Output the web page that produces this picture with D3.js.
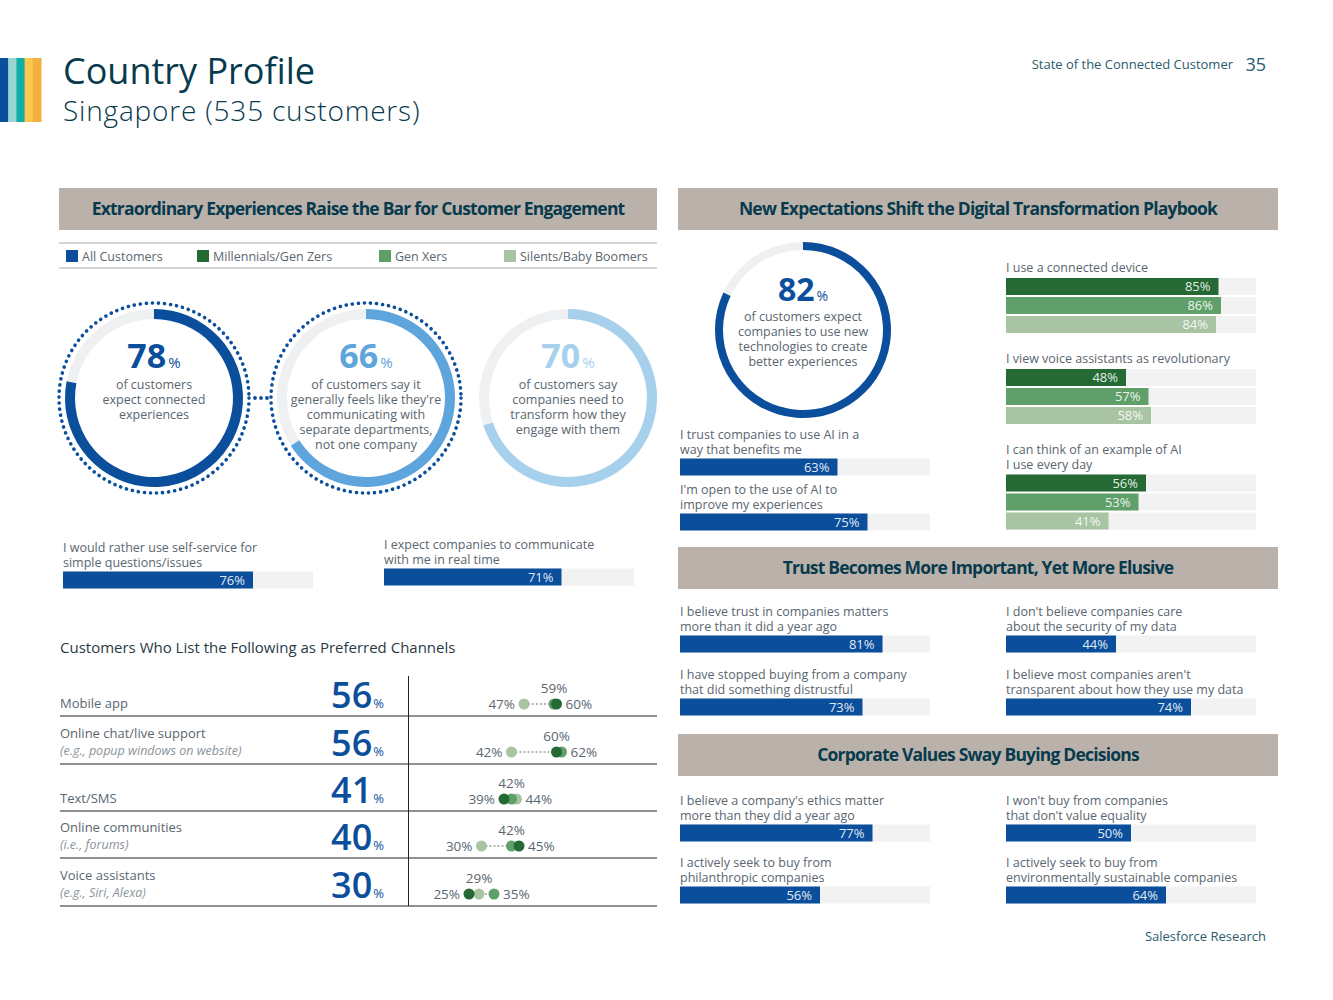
<!DOCTYPE html>
<html>
<head>
  <meta charset="utf-8">
  <title>Country Profile</title>
  <style>
    body { margin: 0; background: #fff; }
    text { font-family: "Open Sans", sans-serif; }
  </style>
</head>
<body>
<script src="https://cdnjs.cloudflare.com/ajax/libs/d3/7.8.5/d3.min.js"></script>
<script>
// data
const circleValues = [78, 66, 70];
const circleTexts = [
  ["of customers", "expect connected", "experiences"],
  ["of customers say it", "generally feels like they're", "communicating with", "separate departments,", "not one company"],
  ["of customers say", "companies need to", "transform how they", "engage with them"]
];
const transformValue = 82;
const transformText = ["of customers expect", "companies to use new", "technologies to create", "better experiences"];

const leftBarLabels = [["I would rather use self-service for", "simple questions/issues"], ["I expect companies to communicate", "with me in real time"]];
const leftBarValues = [76, 71];

const aiLabels = [["I trust companies to use AI in a", "way that benefits me"], ["I'm open to the use of AI to", "improve my experiences"]];
const aiValues = [63, 75];

const genLabels = [["I use a connected device"], ["I view voice assistants as revolutionary"], ["I can think of an example of AI", "I use every day"]];
const millennials = [85, 48, 56];
const genXers = [86, 57, 53];
const boomers = [84, 58, 41];

const trustLabels = [["I believe trust in companies matters", "more than it did a year ago"], ["I don't believe companies care", "about the security of my data"],
  ["I have stopped buying from a company", "that did something distrustful"], ["I believe most companies aren't", "transparent about how they use my data"]];
const trustValues = [81, 44, 73, 74];

const valuesLabels = [["I believe a company's ethics matter", "more than they did a year ago"], ["I won't buy from companies", "that don't value equality"],
  ["I actively seek to buy from", "philanthropic companies"], ["I actively seek to buy from", "environmentally sustainable companies"]];
const valuesValues = [77, 50, 56, 64];

const channels = ["Mobile app", "Online chat/live support", "Text/SMS", "Online communities", "Voice assistants"];
const channelNotes = ["", "(e.g., popup windows on website)", "", "(i.e., forums)", "(e.g., Siri, Alexa)"];
const channelAll = [56, 56, 41, 40, 30];
const channelMill = [60, 60, 39, 45, 25];
const channelGenX = [59, 62, 42, 42, 35];
const channelBoom = [47, 42, 44, 30, 29];

const legendLabels = ["All Customers", "Millennials/Gen Zers", "Gen Xers", "Silents/Baby Boomers"];

// styles
const blue = "#0b4f9c", dark = "#256a34", mid = "#5fa06a", light = "#a8c4a2";
const grey = "#5a6670", track = "#f3f2f2", band = "#bab2aa";

const svg = d3.select("body").append("svg").attr("width", 1333).attr("height", 1000);

// header
const stripes = ["#0b4f9c", "#9ad6d2", "#14aea6", "#fcc850", "#f4b03e"];
const sx = d3.scaleBand().domain(d3.range(5)).range([0, 41]);
svg.selectAll(".stripe").data(stripes).enter().append("rect")
  .attr("x", (d, i) => sx(i)).attr("y", 58).attr("width", sx.bandwidth() + 0.5).attr("height", 64).attr("fill", d => d);
svg.append("text").attr("x", 63).attr("y", 84).attr("font-size", 36).attr("fill", "#083a4d").text("Country Profile");
svg.append("text").attr("x", 63).attr("y", 121).attr("font-size", 28).attr("font-weight", 300).attr("letter-spacing", 0.8).attr("fill", "#083a4d").text("Singapore (535 customers)");
svg.append("text").attr("x", 1233).attr("y", 69).attr("text-anchor", "end").attr("font-size", 13).attr("fill", "#2a5b6e").text("State of the Connected Customer");
svg.append("text").attr("x", 1266).attr("y", 71).attr("text-anchor", "end").attr("font-size", 18).attr("fill", "#2a5b6e").text("35");
svg.append("text").attr("x", 1266).attr("y", 941).attr("text-anchor", "end").attr("font-size", 13).attr("fill", "#2a5b6e").text("Salesforce Research");

// section bands
function band_(x, y, w, title) {
  svg.append("rect").attr("x", x).attr("y", y).attr("width", w).attr("height", 42).attr("fill", band);
  svg.append("text").attr("x", x + w / 2).attr("y", y + 27).attr("text-anchor", "middle")
    .attr("font-family", "Roboto").attr("font-size", 17.5).attr("font-weight", 700).attr("letter-spacing", -0.8)
    .attr("fill", "#083a4d").text(title);
}
band_(59, 188, 598, "Extraordinary Experiences Raise the Bar for Customer Engagement");
band_(678, 188, 600, "New Expectations Shift the Digital Transformation Playbook");
band_(678, 547, 600, "Trust Becomes More Important, Yet More Elusive");
band_(678, 734, 600, "Corporate Values Sway Buying Decisions");

// legend
svg.append("line").attr("x1", 59).attr("x2", 657).attr("y1", 243).attr("y2", 243).attr("stroke", "#aaa");
svg.append("line").attr("x1", 59).attr("x2", 657).attr("y1", 268).attr("y2", 268).attr("stroke", "#aaa");
const legX = [66, 197, 379, 504];
[blue, dark, mid, light].forEach((c, i) => {
  svg.append("rect").attr("x", legX[i]).attr("y", 250).attr("width", 12).attr("height", 12).attr("fill", c);
  svg.append("text").attr("x", legX[i] + 16).attr("y", 261).attr("font-size", 12.5).attr("fill", grey).text(legendLabels[i]);
});

// bars
const xb = d3.scaleLinear().domain([0, 100]).range([0, 250]);
function lines(x, y, arr, size, italic, color) {
  const t = svg.append("text").attr("x", x).attr("y", y).attr("font-size", size || 12.5).attr("fill", color || grey)
    .attr("font-style", italic ? "italic" : null);
  arr.forEach((s, i) => t.append("tspan").attr("x", x).attr("dy", i ? 14.5 : 0).text(s));
}
function bar(x, y, v, color) {
  svg.append("rect").attr("x", x).attr("y", y).attr("width", xb(100)).attr("height", 17).attr("fill", track);
  svg.append("rect").attr("x", x).attr("y", y).attr("width", xb(v)).attr("height", 17).attr("fill", color);
  svg.append("text").attr("x", x + xb(v) - 8).attr("y", y + 13).attr("text-anchor", "end")
    .attr("font-size", 13).attr("fill", "#fff").attr("fill-opacity", 0.9).text(v + "%");
}
function labeledBar(x, y, lab, v) {
  lines(x, y + 4, lab);
  bar(x, y + 9 + 14.5 * (lab.length - 1), v, blue);
}
labeledBar(63, 548, leftBarLabels[0], leftBarValues[0]);
labeledBar(384, 545, leftBarLabels[1], leftBarValues[1]);
labeledBar(680, 435, aiLabels[0], aiValues[0]);
labeledBar(680, 490, aiLabels[1], aiValues[1]);
const colX = [680, 1006];
trustValues.forEach((v, i) => labeledBar(colX[i % 2], i < 2 ? 612 : 675, trustLabels[i], v));
valuesValues.forEach((v, i) => labeledBar(colX[i % 2], i < 2 ? 801 : 863, valuesLabels[i], v));

const genY = [268, 359, 450];
genLabels.forEach((lab, i) => {
  lines(1006, genY[i] + 4, lab);
  const y0 = genY[i] + 10 + 14.5 * (lab.length - 1);
  [[millennials, dark], [genXers, mid], [boomers, light]].forEach(([arr, c], j) => {
    bar(1006, y0 + j * 19, arr[i], c);
  });
});

// circles
const arc = d3.arc();
const circleCfg = [
  { cx: 154, color: blue, dots: true },
  { cx: 366, color: "#5ea5dd", dots: true },
  { cx: 568, color: "#a7d0ec", dots: false }
];
circleValues.forEach((v, i) => {
  const c = circleCfg[i];
  const g = svg.append("g").attr("transform", `translate(${c.cx},398)`);
  g.append("path").attr("d", arc({ innerRadius: 79, outerRadius: 89, startAngle: 0, endAngle: 2 * Math.PI })).attr("fill", "#eff0f2");
  g.append("path").attr("d", arc({ innerRadius: 79, outerRadius: 89, startAngle: 0, endAngle: 2 * Math.PI * v / 100 })).attr("fill", c.color);
  if (c.dots) g.append("circle").attr("r", 95).attr("fill", "none").attr("stroke", blue).attr("stroke-width", 3.6)
    .attr("stroke-linecap", "round").attr("stroke-dasharray", "0.1 6");
  const t = g.append("text").attr("x", 0).attr("y", -30).attr("text-anchor", "middle").attr("fill", c.color);
  t.append("tspan").attr("font-size", 34).attr("font-weight", 700).text(v);
  t.append("tspan").attr("font-size", 15).attr("dx", 2).text("%");
  const lt = g.append("text").attr("text-anchor", "middle").attr("font-size", 12.5).attr("fill", grey);
  circleTexts[i].forEach((s, k) => lt.append("tspan").attr("x", 0).attr("y", -9 + 15 * k).text(s));
});
svg.selectAll(".conn").data([255, 261, 267]).enter().append("circle")
  .attr("cx", d => d).attr("cy", 398).attr("r", 1.9).attr("fill", blue);

// transform circle
{
  const g = svg.append("g").attr("transform", "translate(803,330)");
  g.append("path").attr("d", arc({ innerRadius: 80, outerRadius: 88, startAngle: 0, endAngle: 2 * Math.PI })).attr("fill", "#eff0f2");
  g.append("path").attr("d", arc({ innerRadius: 80, outerRadius: 88, startAngle: 0, endAngle: 2 * Math.PI * transformValue / 100 })).attr("fill", blue);
  const t = g.append("text").attr("x", 0).attr("y", -29).attr("text-anchor", "middle").attr("fill", blue);
  t.append("tspan").attr("font-size", 32).attr("font-weight", 700).text(transformValue);
  t.append("tspan").attr("font-size", 14).attr("dx", 2).text("%");
  const lt = g.append("text").attr("text-anchor", "middle").attr("font-size", 12.5).attr("fill", grey);
  transformText.forEach((s, k) => lt.append("tspan").attr("x", 0).attr("y", -9 + 15 * k).text(s));
}

// preferred channels
svg.append("text").attr("x", 60).attr("y", 653).attr("font-size", 15).attr("fill", "#2a3a44").text("Customers Who List the Following as Preferred Channels");
const rowBottom = [716, 764, 811, 858, 906];
const xd = d3.scaleLinear().domain([0, 100]).range([406.5, 656.5]);
svg.append("line").attr("x1", 408.5).attr("x2", 408.5).attr("y1", 676).attr("y2", 906).attr("stroke", "#222");
channels.forEach((name, i) => {
  const yb = rowBottom[i];
  svg.append("line").attr("x1", 60).attr("x2", 657).attr("y1", yb).attr("y2", yb).attr("stroke", "#222");
  if (channelNotes[i]) {
    lines(60, yb - 26, [name], 13);
    lines(60, yb - 9, [channelNotes[i]], 12.5, true, "#8a939a");
  } else lines(60, yb - 8, [name], 13);
  const t = svg.append("text").attr("x", 384).attr("y", yb - 8).attr("text-anchor", "end").attr("fill", blue);
  t.append("tspan").attr("font-size", 36).attr("font-weight", 600).text(channelAll[i]);
  t.append("tspan").attr("font-size", 13).attr("dx", 1).text("%");

  const vals = [[channelBoom[i], light], [channelGenX[i], mid], [channelMill[i], dark]];
  const sorted = vals.map(d => d[0]).sort((a, b) => a - b);
  const cy = yb - 12;
  svg.append("line").attr("x1", xd(sorted[0])).attr("x2", xd(sorted[2])).attr("y1", cy).attr("y2", cy)
    .attr("stroke", "#b4b9b4").attr("stroke-width", 2).attr("stroke-dasharray", "2 2");
  vals.forEach(([v, c]) => svg.append("circle").attr("cx", xd(v)).attr("cy", cy).attr("r", 5.5).attr("fill", c));
  const lab = (x, y, s, anchor) => svg.append("text").attr("x", x).attr("y", y).attr("text-anchor", anchor)
    .attr("font-size", 13.5).attr("fill", grey).text(s + "%");
  lab(xd(sorted[0]) - 9, cy + 5, sorted[0], "end");
  lab(xd(sorted[2]) + 9, cy + 5, sorted[2], "start");
  lab(xd(sorted[1]), cy - 11, sorted[1], "middle");
});
</script>
</body>
</html>
